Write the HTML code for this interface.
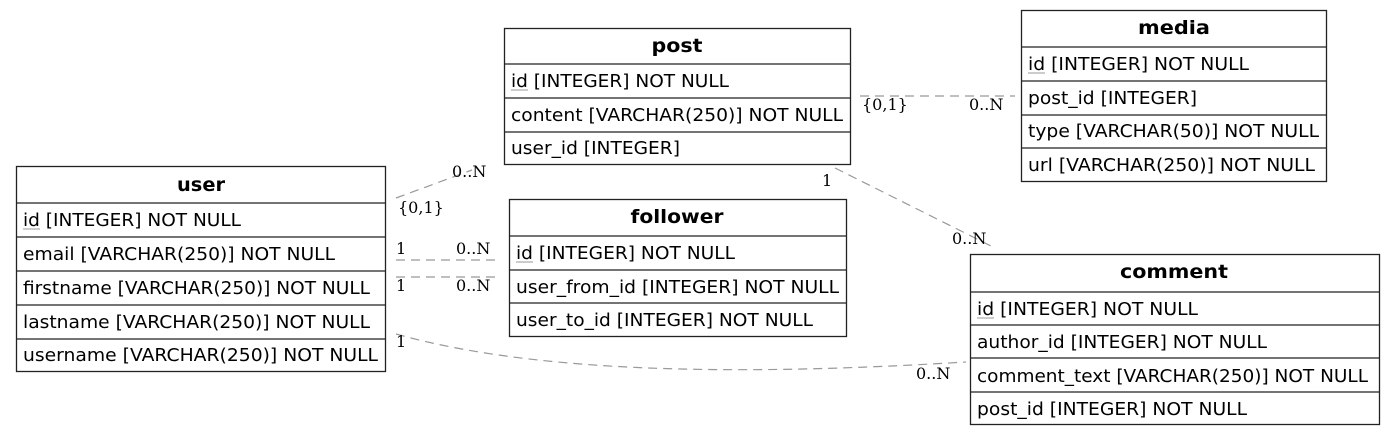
<!DOCTYPE html>
<html><head><meta charset="utf-8"><style>
html,body{margin:0;padding:0;background:#fff;}
svg text{font-family:"DejaVu Sans","Liberation Sans",sans-serif;font-size:18px;fill:#000;}
svg text.h{font-weight:bold;font-size:19px;}
svg text.l{font-family:"DejaVu Serif","Liberation Serif",serif;font-size:16px;}
.b{fill:#fff;stroke:#222;stroke-width:1.3;}
.d{stroke:#222;stroke-width:1.3;}
.c{fill:none;stroke:#999;stroke-width:1.2;stroke-dasharray:9,6;}
.u{stroke:#999;stroke-width:1;}
</style></head><body>
<svg width="1395" height="436" viewBox="0 0 1395 436" xmlns="http://www.w3.org/2000/svg">
<path class="c" d="M396,198 L472,170"/>
<path class="c" d="M396,260 L500,260"/>
<path class="c" d="M396,277 L500,277"/>
<path class="c" d="M396,334 C560,380 800,372 966,362"/>
<path class="c" d="M860,96 L1015,96"/>
<path class="c" d="M835,168 L995,248"/>
<text class="l" x="452" y="177">0..N</text>
<text class="l" x="398" y="213">{0,1}</text>
<text class="l" x="396" y="254">1</text>
<text class="l" x="456" y="254">0..N</text>
<text class="l" x="396" y="291">1</text>
<text class="l" x="456" y="291">0..N</text>
<text class="l" x="396" y="347">1</text>
<text class="l" x="916" y="379">0..N</text>
<text class="l" x="862" y="110">{0,1}</text>
<text class="l" x="969" y="110">0..N</text>
<text class="l" x="822" y="186">1</text>
<text class="l" x="952" y="244">0..N</text>

<rect class="b" x="16.5" y="166.5" width="369" height="205"/>
<line class="d" x1="16" y1="203" x2="386" y2="203"/>
<line class="d" x1="16" y1="237" x2="386" y2="237"/>
<line class="d" x1="16" y1="271" x2="386" y2="271"/>
<line class="d" x1="16" y1="305" x2="386" y2="305"/>
<line class="d" x1="16" y1="339" x2="386" y2="339"/>
<text class="h" x="201" y="191" text-anchor="middle" textLength="48" lengthAdjust="spacingAndGlyphs">user</text>
<text x="23" y="226" textLength="218" lengthAdjust="spacingAndGlyphs">id [INTEGER] NOT NULL</text><line class="u" x1="23" y1="229" x2="40" y2="229"/>
<text x="23" y="260" textLength="312" lengthAdjust="spacingAndGlyphs">email [VARCHAR(250)] NOT NULL</text>
<text x="23" y="294" textLength="347" lengthAdjust="spacingAndGlyphs">firstname [VARCHAR(250)] NOT NULL</text>
<text x="23" y="328" textLength="347" lengthAdjust="spacingAndGlyphs">lastname [VARCHAR(250)] NOT NULL</text>
<text x="23" y="361" textLength="355" lengthAdjust="spacingAndGlyphs">username [VARCHAR(250)] NOT NULL</text>

<rect class="b" x="504.5" y="28.5" width="346" height="136"/>
<line class="d" x1="504" y1="64" x2="851" y2="64"/>
<line class="d" x1="504" y1="98" x2="851" y2="98"/>
<line class="d" x1="504" y1="132" x2="851" y2="132"/>
<text class="h" x="677" y="52" text-anchor="middle" textLength="51" lengthAdjust="spacingAndGlyphs">post</text>
<text x="511" y="87" textLength="218" lengthAdjust="spacingAndGlyphs">id [INTEGER] NOT NULL</text><line class="u" x1="511" y1="90" x2="528" y2="90"/>
<text x="511" y="121" textLength="332" lengthAdjust="spacingAndGlyphs">content [VARCHAR(250)] NOT NULL</text>
<text x="511" y="154" textLength="169" lengthAdjust="spacingAndGlyphs">user_id [INTEGER]</text>

<rect class="b" x="1021.5" y="10.5" width="305" height="171"/>
<line class="d" x1="1021" y1="47" x2="1327" y2="47"/>
<line class="d" x1="1021" y1="81" x2="1327" y2="81"/>
<line class="d" x1="1021" y1="115" x2="1327" y2="115"/>
<line class="d" x1="1021" y1="148" x2="1327" y2="148"/>
<text class="h" x="1174" y="34" text-anchor="middle" textLength="72" lengthAdjust="spacingAndGlyphs">media</text>
<text x="1028" y="70" textLength="221" lengthAdjust="spacingAndGlyphs">id [INTEGER] NOT NULL</text><line class="u" x1="1028" y1="73" x2="1045" y2="73"/>
<text x="1028" y="104" textLength="169" lengthAdjust="spacingAndGlyphs">post_id [INTEGER]</text>
<text x="1028" y="137" textLength="291" lengthAdjust="spacingAndGlyphs">type [VARCHAR(50)] NOT NULL</text>
<text x="1028" y="171" textLength="287" lengthAdjust="spacingAndGlyphs">url [VARCHAR(250)] NOT NULL</text>

<rect class="b" x="509.5" y="199.5" width="337" height="137"/>
<line class="d" x1="509" y1="236" x2="847" y2="236"/>
<line class="d" x1="509" y1="270" x2="847" y2="270"/>
<line class="d" x1="509" y1="303" x2="847" y2="303"/>
<text class="h" x="677" y="223" text-anchor="middle" textLength="93" lengthAdjust="spacingAndGlyphs">follower</text>
<text x="516" y="259" textLength="219" lengthAdjust="spacingAndGlyphs">id [INTEGER] NOT NULL</text><line class="u" x1="516" y1="262" x2="533" y2="262"/>
<text x="516" y="293" textLength="323" lengthAdjust="spacingAndGlyphs">user_from_id [INTEGER] NOT NULL</text>
<text x="516" y="326" textLength="297" lengthAdjust="spacingAndGlyphs">user_to_id [INTEGER] NOT NULL</text>

<rect class="b" x="970.5" y="254.5" width="409" height="170"/>
<line class="d" x1="970" y1="292" x2="1380" y2="292"/>
<line class="d" x1="970" y1="325" x2="1380" y2="325"/>
<line class="d" x1="970" y1="358" x2="1380" y2="358"/>
<line class="d" x1="970" y1="392" x2="1380" y2="392"/>
<text class="h" x="1174" y="278" text-anchor="middle" textLength="108" lengthAdjust="spacingAndGlyphs">comment</text>
<text x="977" y="315" textLength="221" lengthAdjust="spacingAndGlyphs">id [INTEGER] NOT NULL</text><line class="u" x1="977" y1="318" x2="994" y2="318"/>
<text x="977" y="348" textLength="290" lengthAdjust="spacingAndGlyphs">author_id [INTEGER] NOT NULL</text>
<text x="977" y="382" textLength="391" lengthAdjust="spacingAndGlyphs">comment_text [VARCHAR(250)] NOT NULL</text>
<text x="977" y="415" textLength="270" lengthAdjust="spacingAndGlyphs">post_id [INTEGER] NOT NULL</text>
</svg>
</body></html>
